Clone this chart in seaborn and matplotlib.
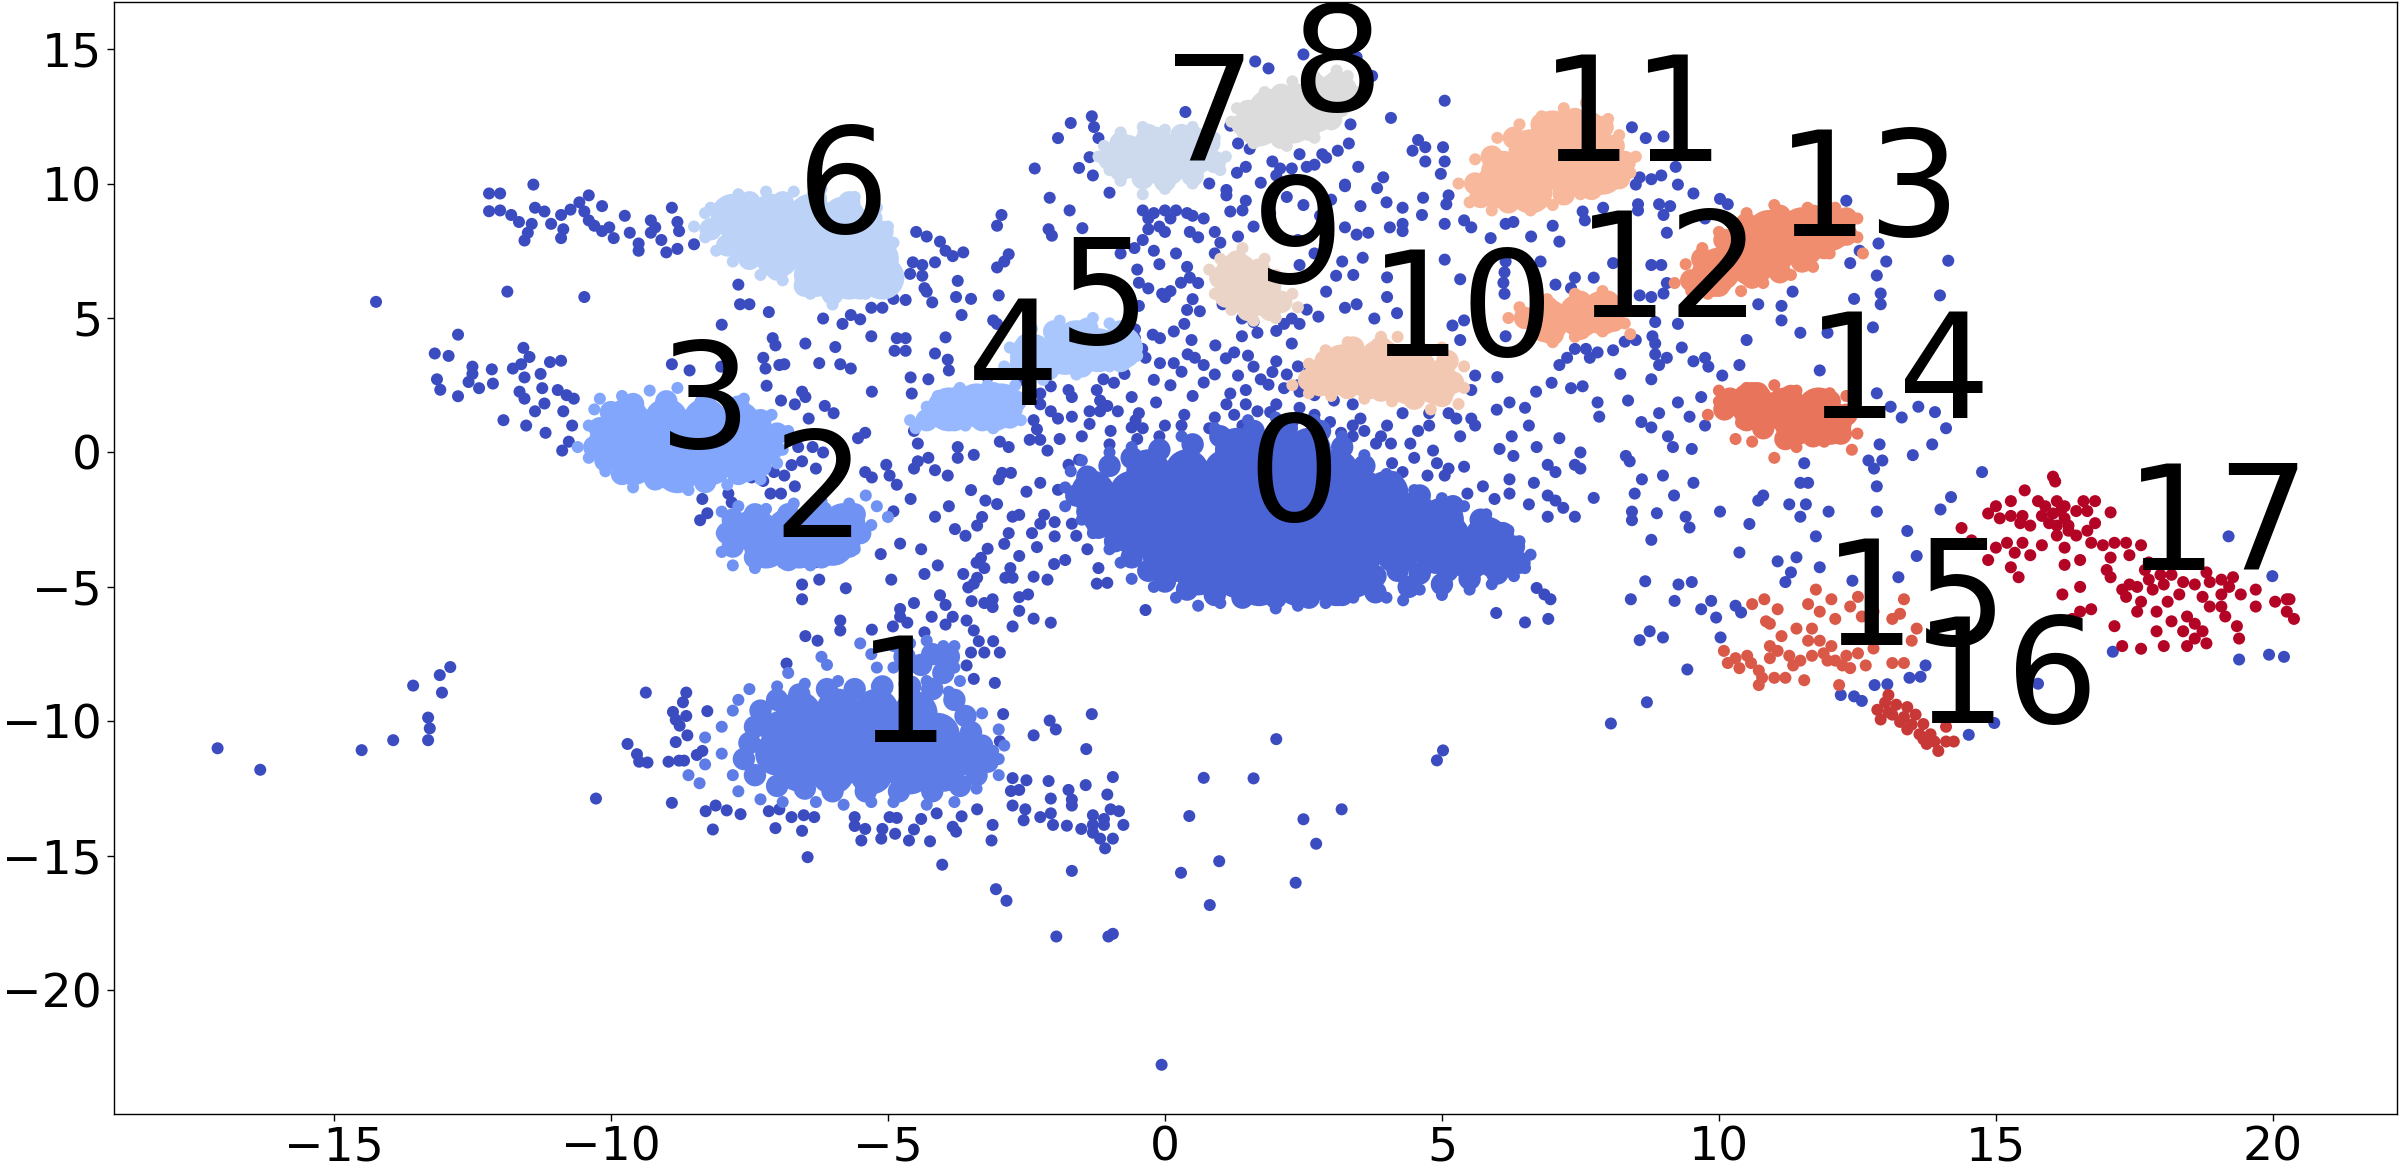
#!/usr/bin/env python3
import matplotlib
matplotlib.use('Agg')
import matplotlib.pyplot as plt
import pandas as pd
import seaborn as sns

# points, as (x, y)
noise_left = [(-12.2,9.63),(-12.0,9.63),(-11.4,9.96),(-12.2,8.97),(-12.0,9.0),(-11.8,8.83),(-11.66,8.57),(-11.37,9.1),(-11.2,8.96),(-11.43,8.5),(-11.5,8.17),(-11.56,7.88),(-11.08,8.5),(-10.9,8.83),(-10.86,8.3),(-10.9,7.97),(-10.73,9.03),(-10.57,9.3),(-10.4,9.56),(-10.48,8.96),(-10.4,8.63),(-10.3,8.43),(-10.16,9.16),(-10.16,8.23),(-10.03,8.37),(-9.95,7.97),(-9.75,8.8),(-9.66,8.17),(-9.5,7.77),(-9.5,7.5),(-9.28,8.63),(-9.2,8.37),(-9.28,8.17),(-9.09,7.9),(-9.0,7.44),(-8.8,7.57),(-8.9,9.1),(-8.8,8.57),(-8.77,8.23),(-8.5,7.74),
    (-14.24,5.6),(-11.87,5.98),(-10.48,5.78),
    (-12.76,4.38),(-13.18,3.68),(-12.93,3.59),(-11.58,3.89),(-11.47,3.55),(-11.1,3.36),(-10.9,3.41),(-11.62,3.28),(-11.77,3.12),(-12.15,3.09),(-12.5,3.19),(-12.5,2.92),(-12.57,2.62),(-13.14,2.72),(-13.08,2.33),(-12.76,2.09),(-12.38,2.39),(-12.13,2.56),(-11.56,2.79),(-11.27,2.92),(-11.24,2.39),(-11.65,2.26),(-11.56,2.0),(-11.37,1.53),(-11.2,1.82),(-10.96,2.32),(-10.8,2.13),(-10.67,2.0),(-10.86,1.53),(-11.94,1.2),(-11.53,1.0),(-11.18,0.73),(-10.7,1.0),(-10.76,0.4),(-10.88,0.07)]

noise_mid_left = [(-7.7,6.24),(-7.67,5.51),(-7.5,5.51),(-7.15,5.22),(-8.0,4.75),(-7.08,4.25),(-7.03,3.98),(-6.49,4.05),(-5.95,3.92),(-6.17,4.98),(-5.82,4.78),(-5.67,5.11),(-5.5,4.95),(-5.3,5.38),(-5.1,5.38),(-4.9,5.71),(-4.68,5.67),(-4.3,5.98),(-4.2,5.58),(-3.74,6.38),(-3.77,5.78),(-3.5,5.71),(-3.67,5.11),(-3.0,5.84),(-3.1,4.91),(-3.03,4.78),(-3.96,4.28),(-5.3,4.32),(-4.84,4.25),(-4.68,4.25),(-4.88,3.78),(-4.68,3.78),(-4.15,3.68),(-3.92,3.45),(-3.9,3.05),
    (-4.49,8.2),(-4.3,8.03),(-4.06,7.84),(-3.96,7.5),(-3.83,7.3),(-3.64,7.44),(-4.15,7.07),(-4.55,7.07),(-4.38,6.97),(-4.6,6.64),(-4.38,6.57),(-4.34,6.11),(-2.95,8.83),(-3.03,8.43),(-2.82,7.37),(-2.9,7.1),(-3.03,6.88),(-2.35,10.56),(-1.7,12.25),(-1.32,12.5),(-1.28,12.1),(-1.93,11.69),(-1.2,11.69),(-1.36,10.98),(-1.55,10.58),(-1.3,10.3),(-1.0,9.66),(-2.08,9.47),(-1.72,9.0),(-2.1,8.3),(-2.04,8.06),(-1.49,8.34),(0.37,12.66),
    (-7.19,2.48),(-7.25,3.52),(-7.21,3.12),(-6.96,3.25),(-6.87,3.28),(-6.24,3.32),(-5.86,3.28),(-5.67,3.12),(-5.29,2.26),(-8.9,3.28),(-8.58,3.05),(-8.01,3.19),(-6.55,2.26),(-6.49,2.06),(-6.93,1.93),(-6.68,1.79),(-6.43,1.26),(-6.14,1.73),(-5.98,1.46),(-5.41,0.73),(-5.54,0.53),(-6.62,0.2),(-6.36,0.2),(-6.17,0),(-6.55,-0.33),(-6.74,-0.47),(-7.06,-0.73),(-6.87,-0.86),(-6.3,-0.6),(-7.46,-0.93),(-7.25,-1.06),(-6.93,-1.53),(-6.68,-1.26),(-7.12,-1.53),(-7.88,-1.53),(-7.82,-1.86),(-8.35,-1.73),(-8.26,-2.26),(-8.39,-2.52),(-5.41,-0.73),(-5.29,-0.93),(-5.03,-0.46),(-4.97,-0.86),(-4.84,-1.2),(-4.59,-1.73),(-4.9,-2.19),(-4.15,-2.39),(-4.78,-3.39),(-5.13,-3.78),(-5.92,-3.65),(-3.79,-2.85),(-3.39,-2.72),(-4.53,0.8),(-4.46,0.33),(-4.46,-0.33),(-4.27,-0.2),(-4.53,-0.6),(-4.15,-0.66),(-3.92,-0.86),(-3.74,0.2),(-3.74,-0.2),(-3.45,-0.09),(-4.59,2.79),(-4.27,2.72),(-4.57,2.19),(-2.98,0.4),(-2.82,0.2),(-2.44,0.47),(-2.25,0.47),(-2.94,-0.76),(-2.78,-0.76),(-3.24,-1.79),(-3.03,-1.92),(-2.25,-1.13),(-2.5,-1.46),(-1.93,-1.39),(-1.55,-0.27),(-1.74,-0.46),(-2.75,-2.39),(-2.63,-2.32),(-2.82,-3.0),(-2.18,-2.32),(-2.25,-2.65),(-1.99,-2.59),(-1.68,-2.65),(-2.31,-3.52),(-2.63,-3.85),(-3.2,-3.58),(-3.32,-3.92),(-1.99,-3.12),
    (-2.25,2.19),(-2.06,2.46),(-1.74,2.32),(-1.68,2.06),(-2.25,1.79),(-2.06,1.53),(-1.93,1.26),(-1.68,1.33),(-2.37,1.2),(-2.31,0.86),(-1.36,1.53),(-1.17,1.93),(-1.04,1.73),(-1.36,1.06),(-1.17,1.53),(-0.85,1.53),(-0.6,2.06),(-0.16,1.86),(-0.47,1.46),(-0.53,1.2),(-1.23,2.32),(-1.11,2.72),(-0.92,2.59),(-0.73,2.92),(0.0,1.0),(-0.6,0.93),(-0.98,0.8),(-2.12,0.07),(0.35,1.4),
    (-3,-1),(-3.5,-1.4),(-3.9,-2),(-3.3,-2.4),(-3.6,-3.1),(-2.9,-3.4),(-3.4,-4.1),(-2.4,-3),(-1.8,-4),(-1.4,-3.6),(-1.2,-4.3),(-1.6,-3.1),(-4.4,-3.6),(-4.1,-4.2),(-3.2,2.8),(-2.6,2.7),(-2.2,3.0),(-1.5,0.6),(-1.9,0.5),(-1,0.3),(-0.5,0.5)]

noise_centre = [(-0.4,9.0),(-0.2,8.9),(0,9),(0.2,9),(0.4,8.9),(0.5,8.8),(-0.3,8.7),(-0.1,8.4),(0.1,8.7),(-0.3,8.3),(0,8.2),(0.45,8.2),(0.6,8.0),(-0.4,7.9),(-0.2,7.5),(-0.8,7.4),(-0.55,7.6),(-0.1,7.0),(0.2,7.4),(-0.5,6.8),(0.4,6.9),(0.45,6.5),(0.6,6.3),(-0.3,6.1),(-0.05,5.9),(0.1,6.0),(0.5,5.7),(0.4,5.3),(-0.47,6.31),(0,5.78),(-0.47,5.45),(0.29,6.31),(-0.22,4.38),(-0.54,4.58),(-0.54,4.25),(-0.09,4.25),(0.16,4.5),(0.35,4.78),(-0.41,3.85),(-0.35,3.52),(-0.09,3.32),(0.16,3.32),(0.41,3.65),(0.54,3.52),(0.48,4.18),
    (1.32,8.03),(0.7,8.7),(1.18,8.96),(1.46,9.36),(1.11,9.76),(1.73,10.03),(1.46,10.62),(1.94,10.82),(2.08,10.56),(2.43,11.09),(2.84,11.09),(3.12,11.22),(3.32,11.49),(2.91,10.96),(2.56,10.62),(2.29,10.56),(2.7,10.7),(3.49,10.62),(1.32,11.49),(1.53,11.29),(1.18,12.15),(3.25,9.9),(2.01,10.3),(1.11,9.56),
    (1.04,5.51),(0.63,5.25),(1.39,4.98),(1.6,4.85),(2.15,4.78),(2.43,4.78),(2.56,5.31),(2.77,5.05),(2.29,4.98),(1.39,4.32),(1.67,4.45),(2.01,4.52),(2.29,4.05),(0.91,3.98),(1.25,3.72),(1.6,3.19),(2.01,3.39),(1.94,2.99),(0.7,3.25),(1.32,2.86),(1.73,2.72),(1.87,2.52),(2.15,2.39),(2.43,2.26),(2.7,2.13),(3.05,1.93),(3.39,1.79),(1.18,2.19),(1.46,2.32),(1.11,1.79),(1.46,1.79),(1.25,1.4),(1.67,1.53),(2.01,1.79),(2.43,1.66),(2.7,1.4),(2.98,1.13),(3.39,1.0),(3.18,0.73),(3.53,1.26),(3.39,0.6),(3.18,0.07),(3.81,0.33),(4.08,0.33),(4.43,0.33),(4.01,1.0),(4.29,1.46),(4.77,1.46),(4.77,1.0),(4.57,0.8),(5.12,1.46),(5.26,1.26),(5.53,1.26),(5.33,0.6),(5.6,1.0),(4.84,0.07),(4.91,-0.4),(5.4,-0.53),(4.29,-0.73),(4.74,-0.86),(5.05,-0.86),(5.12,-0.6),
    (1.63,14.54),(1.87,14.28),(2.5,14.8),(3.46,14.7),(3.74,14.0),(5.05,13.08),(4.08,12.44),(3.35,12.2),(4.57,11.62),(4.7,11.35),(5.02,11.35),(4.47,11.22),(4.7,10.82),(5.05,10.82),(4.98,10.36),(3.94,10.23),(3.25,9.96),(3.83,9.83),(4.0,9.3),(4.29,9.1),(4.66,9.47),(5.12,9.56),(5.08,9.23),(4.64,8.83),(5.05,8.5),(3.53,9.16),(4.29,8.5),(4.29,8.23),(4.06,8.37),(3.67,8.17),(3.46,8.1),(3.25,8.37),(2.43,6.97),(3.57,7.24),(3.09,6.57),(2.91,5.98),(4.01,6.51),(4.01,5.78),(3.46,5.51),(3.25,5.38),(3.78,4.98),(4.19,5.18),(5.05,7.17),(5.33,6.44),(5.19,4.72),(5.4,4.91),
    (0.8,0.9),(0.3,1.0),(0.9,1.3),(1.4,1.0),(1.9,1.5),(2.3,1.1),(0.5,2.1),(0.1,2.5),(0.7,2.6),(0.9,2.9),(-0.2,2.7),(0.3,3.0),(-0.4,0.9),(-0.1,0.6),(1.1,3.5),(1.5,3.6),(2.4,3.2),(2.6,3.0),(2.2,2.9),(2.4,2.5),(4.5,-0.2),(4.1,-0.4),(3.6,0.8),(3.9,0.6),(0.9,7.4),(1,7.8),(0.9,8.2),(1.6,8.4),(1.4,9.0),(1.9,8.9),(2.2,9.5),(2.5,9.2),(2.8,8.8),(3,9.4),(2.4,7.9),(2.7,7.4),(2.9,7.9),(3.2,7.1),(3.4,6.6),(0.8,10),(1.3,10.4)]

noise_right = [(5.4,8.63),(5.53,8.37),(5.88,7.97),(6.15,8.5),(6.29,8.57),(6.61,8.03),(7.12,7.84),(7.0,8.43),(7.54,8.96),(7.58,8.63),(7.91,9.1),(7.95,8.7),(8.54,9.23),(8.54,9.0),(8.92,9.23),(9.12,9.16),(9.0,8.83),(9.06,8.17),(10.02,9.43),(10.16,9.23),(9.75,8.7),(9.54,9.63),(9.26,9.96),(9.22,10.62),(8.43,12.09),(8.68,11.69),(9.0,11.75),(8.57,10.23),(8.78,10.16),(8.96,10.3),(8.5,9.96),
    (8.09,7.04),(8.78,6.97),(8.96,6.97),(9.06,6.3),(9.0,5.91),(8.78,5.78),(8.57,5.84),(7.74,6.5),(7.4,6.5),(7.33,6.11),(7.05,6.24),(6.78,7.1),(6.15,7.1),(6.13,6.7),(6.11,6.31),(6.13,5.9),(6.15,4.32),(5.33,4.18),(9.26,4.78),(8.85,4.85),(8.8,4.32),(8.85,4.05),(8.5,4.18),(8.3,4.12),(9.33,3.9),(8.85,3.65),(9.06,3.52),(8.09,3.8),(7.81,3.72),(7.6,3.85),(7.4,3.85),(7.26,3.52),(7.12,3.25),(7.67,3.52),(8.22,2.92),(8.92,3.25),(8.78,2.72),(9.75,3.52),(9.54,3.39),(9.81,3.19),(10.37,3.25),(10.06,2.86),(10.5,4.18),(11.13,5.45),(10.71,5.51),(11.33,5.98),(11.13,4.91),(11.47,4.45),(11.96,4.45),(11.82,3.05),(12.78,4.65),(12.44,5.71),(12.92,5.91),(12.92,5.51),(12.85,6.58),(12.37,7.04),(12.54,7.5),(12.88,7.77),(13.02,7.1),(14.14,7.13),(13.99,5.84),(12.3,9.36),
    (5.6,2.86),(6.0,2.8),(5.53,2.32),(6.7,2.26),(6.98,2.59),(7.33,2.39),(7.54,2.46),(6.22,1.86),(6.5,1.66),(5.99,1.59),(6.57,1.0),(7.81,1.86),(7.84,1.33),(8.36,1.93),(8.92,1.46),(8.6,1.13),(8.78,0.93),(9.26,1.86),(9.68,2.06),(9.47,1.33),(9.75,1.0),(9.08,0.6),(9.17,0.2),(9.51,0.13),(7.12,0.53),(7.5,0),(6.71,0.2),(6.26,0.6),(6.04,0.13),(6.29,-0.13),(6.91,-0.46),(7.05,-0.73),(7.4,-0.46),(7.5,-0.6),(8.32,-0.13),(8.39,-0.33),(8.99,-0.86),(8.61,-1.0),(8.48,-1.53),(9.54,-1.13),(9.19,-1.6),(7.74,-1.69),(10.02,-2.2),(8.43,-2.2),(8.88,-2.26),(8.43,-2.52),(9.4,-2.39),(9.47,-2.79),(8.78,-3.25),(6.91,-1.6),(7.05,-1.79),(7.19,-2.06),(7.4,-2.39),(6.91,-2.39),(6.57,-1.93),(6.22,-1.0),(6.22,-1.53),(5.95,-1.73),(5.74,-1.26),(5.46,-1.53),(6.66,-1.13),
    (10.8,-1.6),(10.71,-1.79),(11.47,-1.13),(11.61,-1.13),(11.54,-0.4),(11.27,-1.93),(11.57,-1.93),(11.98,-2.2),(11.47,-2.39),(12.85,-1.26),(12.85,-2.2),(10.55,-2.66),(11.75,-3.12),(10.37,-3.72),(14.75,-0.73),(14.19,-1.66),(14.0,-2.12),(13.4,-2.92),(19.2,-3.12),
    (12.85,2.2),(13.1,1.7),(13.3,1.3),(13.6,1.7),(13.9,1.5),(14.1,0.9),(13.85,0.3),(13.5,-0.1),(12.9,0.3),(12.95,-0.3),(12.8,-0.6),(12.7,-0.3),
    (11.06,-4.05),(11.4,-3.9),(11.82,-4.27),(11.3,-4.46),(11.2,-4.82),(8.67,-4.79),(9.27,-4.91),(9.51,-4.82),(8.41,-5.46),(9.2,-5.52),(9.86,-5.52),(9.68,-5.83),(10.3,-5.7),(10.4,-5.95),(9.95,-6.14),(10.03,-6.88),(8.75,-6.65),(8.99,-6.88),(8.57,-6.98),(9.43,-8.07),(8.7,-9.29),(8.05,-10.08),(13.57,-3.85),(13.24,-4.64),(12.41,-4.77),(13.73,-7.92),(13.64,-8.34),(13.44,-8.38),(12.81,-8.65),(13.04,-8.62),(12.2,-9.02),(12.44,-9.07),(12.58,-9.24),(15.76,-8.6),(14.97,-10.06),(14.51,-10.5),(17.11,-7.41),(19.39,-7.7),(19.93,-7.52),(20.2,-7.6),(19.99,-4.6),
    (6.71,-5.04),(6.85,-5.28),(6.96,-5.46),(6.92,-6.19),(6.5,-6.32),(5.98,-5.97)]

noise_low = [(2.01,-10.66),(5.02,-11.08),(4.91,-11.45),(0.7,-12.1),(1.6,-12.12),(3.19,-13.27),(2.5,-13.64),(2.73,-14.55),(0.98,-15.2),(2.36,-16.0),(0.81,-16.83),
    (-17.1,-11.0),(-16.33,-11.8),(-14.5,-11.07),(-13.93,-10.7),(-13.3,-10.7),(-13.27,-10.26),(-13.3,-9.86),(-13.57,-8.67),(-13.09,-8.28),(-12.9,-7.98),(-13.05,-8.93),
    (-10.27,-12.87),(-9.7,-10.84),(-9.37,-8.93),(-8.64,-8.93),(-8.7,-9.29),(-8.88,-9.65),(-8.83,-9.94),(-8.76,-10.16),(-8.64,-9.8),(-8.26,-9.62),(-8.62,-10.52),(-8.83,-10.77),(-9.53,-11.22),(-9.49,-11.5),(-9.34,-11.53),(-8.96,-11.5),(-8.77,-11.46),(-8.68,-11.46),(-8.45,-11.25),(-8.35,-11.1),(-8.9,-13.03),(-8.29,-13.34),(-8.11,-13.13),(-7.91,-13.31),(-7.66,-13.45),(-8.16,-14.02),(-7.03,-13.97),(-7.15,-13.34),(-6.96,-13.27),(-6.74,-13.56),(-6.55,-14.07),(-6.52,-13.49),(-6.33,-13.56),(-6.45,-15.05),(-5.6,-13.56),(-5.6,-13.89),(-5.48,-14.43),(-5.41,-14.0),(-5.12,-14.36),(-5.1,-14.0),(-4.87,-14.18),(-4.97,-13.56),(-4.84,-13.59),(-4.53,-14.02),(-4.62,-14.43),(-4.24,-14.46),(-4.4,-13.63),(-4.12,-13.42),(-3.67,-13.53),(-3.83,-13.92),(-3.77,-14.1),(-3.39,-13.27),(-3.11,-13.85),(-3.13,-14.43),(-4.02,-15.33),(-3.05,-16.24),(-2.86,-16.67),(-1.96,-18.0),(-1.02,-18.0),(-0.94,-17.9),(-1.68,-15.56),(-0.06,-22.77),(0.29,-15.63),
    (-2.75,-12.11),(-2.5,-12.19),(-2.78,-12.59),(-2.63,-12.55),(-2.1,-12.22),(-2.75,-13.13),(-2.52,-13.27),(-2.55,-13.68),(-2.25,-13.56),(-2.06,-13.42),(-2.06,-12.87),(-1.74,-12.55),(-1.68,-12.91),(-1.68,-13.13),(-1.43,-12.37),(-1.04,-12.72),(-0.94,-12.07),(-0.98,-13.27),(-0.83,-13.34),(-2.02,-13.85),(-1.77,-13.88),(-1.51,-14.0),(-1.3,-13.49),(-1.1,-13.63),(-1.3,-13.85),(-1.1,-13.85),(-0.75,-13.85),(-1.3,-14.14),(-1.17,-14.36),(-1.08,-14.72),(-0.94,-14.36),(0.44,-13.52),
    (-1.42,-11.03),(-2.37,-10.52),(-2.08,-9.97),(-1.97,-10.3),(-1.32,-9.73),(-2.92,-9.73),(-2.98,-10.74),(-3.07,-8.57),(-3.45,-8.42),(-3.58,-7.92),(-3.36,-7.02),(-3.1,-7.02),(-3.5,-7.44),(-3.26,-7.44),(-2.98,-7.44),(-2.75,-6.47),(-2.37,-6.18),(-2.06,-6.33),
    (-6.49,-6.83),(-6.27,-7.0),(-6.83,-7.85),(-5.86,-6.25),(-5.86,-6.62),(-5.29,-6.59),(-4.78,-5.82),(-4.78,-6.11),(-4.65,-6.33),(-4.91,-6.47),(-4.53,-5.6),(-4.34,-6.69),(-4.21,-6.11),(-4.06,-5.31),(-3.96,-5.67),(-3.83,-6.11),(-3.96,-6.4),(-3.58,-6.25),(-3.45,-6.62),(-3.49,-5.53),(-3.11,-5.46),(-3.11,-5.75),(-3.26,-5.6),(-2.63,-5.38),(-2.47,-5.28),(-2.63,-5.89),
    (-6.55,-4.91),(-6.55,-5.46),(-6.24,-4.73),(-5.76,-5.05),(-4.94,-4.73),(-4.34,-4.52),(-3.64,-4.52),(-3.45,-4.88),(-3.39,-4.66),(-3.55,-5.02),(-3.26,-4.3),(-2.88,-4.66),(-2.75,-4.66),(-2.79,-4.3),(-2.37,-4.62),(-2.12,-4.73),(-2.0,-4.15),(-6.3,-4.08),(-1.23,-4.88),(-1.04,-4.85),(-0.35,-5.86)]

# filled middle of each cluster
core_pts = {
    0: [(1.3,0.1),(2.0,0.1),(2.6,0.1),(-0.3,-0.7),(0.4,-0.7),(1.1,-0.7),(1.8,-0.7),(2.5,-0.7),(3.1,-0.7),(-1.3,-1.5),(-0.6,-1.5),(0.1,-1.5),(0.8,-1.5),(1.5,-1.5),(2.2,-1.5),(2.9,-1.5),(3.6,-1.5),(4.0,-1.5),(-1.1,-2.3),(-0.4,-2.3),(0.3,-2.3),(1,-2.3),(1.7,-2.3),(2.4,-2.3),(3.1,-2.3),(3.8,-2.3),(4.5,-2.3),(5,-2.5),(-0.5,-3.1),(0.2,-3.1),(0.9,-3.1),(1.6,-3.1),(2.3,-3.1),(3,-3.1),(3.7,-3.1),(4.4,-3.1),(5.1,-3.1),(5.8,-3.2),(0,-3.9),(0.7,-3.9),(1.4,-3.9),(2.1,-3.9),(2.8,-3.9),(3.5,-3.9),(4.2,-3.7),(4.9,-3.7),(5.5,-3.9),(6,-3.9),(0.6,-4.5),(1.3,-4.6),(2,-4.7),(2.7,-4.7),(3.4,-4.6),(1.7,-4.9),(2.4,-4.9),(3.1,-4.9)],
    1: [(-6.6,-9.7),(-5.9,-9.6),(-5.2,-9.6),(-4.5,-9.7),(-6.9,-10.4),(-6.2,-10.4),(-5.5,-10.4),(-4.8,-10.4),(-4.1,-10.5),(-7.0,-11.2),(-6.4,-11.2),(-5.7,-11.2),(-5,-11.2),(-4.3,-11.2),(-3.7,-11.2),(-6.6,-11.8),(-6,-11.9),(-5.3,-11.9),(-4.6,-11.9),(-4,-11.8)],
    2: [(-7.4,-2.9),(-6.8,-2.9),(-6.2,-2.9),(-5.8,-2.7),(-7.2,-3.5),(-6.6,-3.5),(-6,-3.4)],
    3: [(-9.7,1.2),(-9,1.2),(-8.3,1.2),(-7.7,1.1),(-10,0.4),(-9.3,0.4),(-8.6,0.4),(-7.9,0.4),(-7.3,0.3),(-9.6,-0.4),(-8.9,-0.4),(-8.2,-0.4),(-7.6,-0.3),(-8.8,-0.7)],
    4: [(-3.9,1.6),(-3.4,1.75),(-2.95,1.75),(-3.1,1.6)],
    5: [(-2.4,3.6),(-1.8,3.7),(-1.2,3.8),(-0.8,3.9),(-1.6,4.1)],
    6: [(-7.8,8.8),(-7.1,8.8),(-6.4,8.8),(-5.8,8.7),(-7.6,8),(-6.9,8),(-6.2,8),(-5.5,8),(-7,7.3),(-6.3,7.2),(-5.7,7.2),(-5.2,7.2),(-6.3,6.6),(-5.7,6.5),(-5.1,6.5)],
    7: [(-0.7,11),(0,11),(0.5,11.1),(0,10.7),(0.5,11.3),(-0.2,11.3)],
    8: [(1.7,12.2),(2.3,12.3),(2.7,12.7),(3.1,13.3),(1.9,12.7),(2.4,12.9)],
    9: [(1.3,6.6),(1.7,5.9),(1.3,6.1)],
    10: [(3.2,3.2),(3.9,3.4),(4.5,3.1),(3,2.9),(3.7,2.8),(4.4,2.6),(4.9,2.6)],
    11: [(7,11.9),(7.6,11.9),(6.6,11.2),(7.2,11.2),(7.8,11.1),(6.1,10.4),(6.7,10.4),(7.3,10.3),(7.9,10.4),(6,9.9),(6.6,9.7)],
    12: [(6.9,4.9),(7.5,5.1),(7.9,5.2)],
    13: [(10.9,8.2),(11.5,8.3),(12,8.3),(10.4,7.5),(11,7.5),(11.5,7.7),(10,6.8),(10.6,7),(9.9,6.6)],
    14: [(10.6,1.8),(11.2,1.6),(11.8,1.6),(12,1.1),(11.4,1.1)],
}

# just inside the outline, smooths the edge of the filled part
fill_pts = {
    0: [(-1.4,-0.9),(-1.0,-0.5),(-0.6,-0.2),(-0.1,0.1),(0.5,0.3),(1.0,0.6),(1.6,0.8),(2.2,0.9),(2.8,0.8),(3.2,0.2),(3.6,-0.5),(4.1,-1.1),(4.6,-1.6),(5.2,-2.0),(5.7,-2.5),(6.1,-3.0),(6.3,-3.5),(6.4,-4.1),(6,-4.5),(5.5,-4.7),(5,-4.9),(4.4,-5.0),(3.8,-5.2),(3.2,-5.3),(2.6,-5.4),(2,-5.4),(1.4,-5.4),(0.9,-5.3),(0.4,-5.1),(0,-4.8),(-0.3,-4.4),(-0.6,-3.9),(-0.9,-3.3),(-1.2,-2.8),(-1.4,-2.2),(-1.6,-1.6),(4.6,-4.5),(5.1,-4.4),(4.2,-4.4),(3.8,-4.6),(0.2,-4.4)],
    1: [(-7.3,-9.6),(-7.4,-10.2),(-7.5,-10.8),(-7.6,-11.4),(-7.4,-12),(-7,-12.4),(-6.5,-12.5),(-6,-12.6),(-5.4,-12.6),(-4.8,-12.6),(-4.2,-12.6),(-3.7,-12.4),(-3.4,-12),(-3.2,-11.5),(-3.3,-10.9),(-3.5,-10.4),(-3.6,-9.8),(-3.8,-9.2),(-4.2,-8.8),(-4.6,-8.7),(-5.1,-8.7),(-5.6,-8.8),(-6.1,-8.8),(-6.6,-9),(-7,-9.2),(-4.0,-8.2),(-4.4,-7.9),(-4.7,-7.6),(-4.2,-7.5),(-3.9,-7.6)],
    2: [(-7.8,-2.5),(-7.4,-2.3),(-6.8,-2.3),(-6.2,-2.2),(-5.6,-2.3),(-5.5,-3),(-5.7,-3.5),(-6.2,-3.9),(-6.8,-4),(-7.4,-3.9),(-7.8,-3.5),(-7.9,-3)],
    3: [(-10.2,0.9),(-10.3,0.2),(-10.1,-0.3),(-9.8,-0.8),(-9.2,-1.0),(-8.3,-1.1),(-7.7,-0.8),(-7.3,-0.5),(-7.1,0.1),(-7.0,0.7),(-7.3,1.2),(-7.7,1.7),(-8.3,1.8),(-9,1.9),(-9.6,1.8),(-10,1.5)],
    4: [(-4.3,1.2),(-4.1,1.6),(-3.7,2.1),(-3.1,2.2),(-2.7,1.9),(-2.8,1.3),(-3.3,1.2),(-3.8,1.2)],
    5: [(-2.6,3.3),(-2.5,4),(-2.0,4.5),(-1.4,4.6),(-0.8,4.5),(-0.6,3.9),(-0.8,3.4),(-1.5,3.2),(-2.1,3.1)],
    6: [(-8.2,8.3),(-8.0,8.9),(-7.5,9.3),(-6.9,9.3),(-6.3,9.4),(-5.7,9.3),(-5.3,8.7),(-5.1,8.2),(-5.1,7.6),(-5.2,6.6),(-5.5,6.1),(-6,5.9),(-6.5,6.2),(-7,6.8),(-7.5,7.2),(-7.9,7.7)],
    7: [(-1,10.9),(-0.8,11.5),(-0.3,11.8),(0.3,11.8),(0.8,11.5),(0.9,10.8),(0.5,10.3),(0,10.1),(-0.4,10.2),(-0.8,10.5)],
    8: [(1.4,12.2),(1.5,12.7),(2.1,13.3),(2.7,13.7),(3.1,13.8),(3.3,13.2),(3,12.4),(2.6,12),(2.1,11.7),(1.7,11.8)],
    9: [(1,6.5),(1.3,7.1),(1.7,6.8),(1.9,6.2),(2.1,5.6),(1.9,5.3),(1.5,5.3),(1.1,5.8)],
    10: [(2.6,2.7),(2.9,3.4),(3.4,3.9),(3.9,3.9),(4.6,3.7),(5.1,3.4),(5.2,2.6),(5.0,2.1),(4.5,2.0),(3.9,2.3),(3.3,2.4),(2.8,2.5)],
    11: [(5.6,10),(5.9,11),(6.3,11.7),(6.8,12.2),(7.4,12.4),(7.9,12.1),(8.1,11.4),(8.3,10.8),(8.2,10.2),(7.7,9.8),(7.2,9.6),(6.2,9.3),(5.7,9.5)],
    12: [(6.5,5),(6.9,5.4),(7.5,5.6),(8,5.6),(8.1,4.9),(7.5,4.6),(7,4.4)],
    13: [(9.5,6.4),(9.7,7.2),(10.1,7.9),(10.5,8.5),(11.1,8.8),(11.7,8.8),(12.3,8.7),(12.3,8.1),(11.9,7.6),(11.5,7.1),(11.1,6.7),(10.6,6.5),(10,6.2)],
    14: [(10.1,1.6),(10.2,2.0),(10.7,2.2),(11.3,2.1),(12,1.9),(12.3,1.4),(12.2,0.7),(11.7,0.6),(11.2,0.5),(10.8,0.9),(10.5,1.2)],
}

# loose dots round the edge of each cluster, and all of 15, 16, 17
edge_pts = {
    0: [(-1.8,-1.3),(-1.7,-0.7),(-1.5,-0.3),(-1,0),(-0.6,0.2),(0.3,0.6),(0.9,0.9),(1.5,1.2),(2,1.3),(2.7,1.2),(3.2,0.6),(3.6,-0.1),(4,-0.8),(4.5,-1.4),(5,-1.7),(5.4,-2),(5.8,-2.3),(6.2,-2.9),(6.4,-3.3),(6.6,-3.8),(6.5,-4.3),(6.3,-4.6),(5.9,-4.9),(5.5,-5.1),(5,-5.3),(4.6,-5.1),(4.3,-5.5),(4,-5.4),(3.4,-5.4),(2.9,-5.6),(2.4,-5.7),(2,-5.8),(1,-5.6),(0.6,-5.7),(0.2,-5.4),(-0.2,-5),(-0.6,-4.7),(-0.8,-4.1),(-1,-3.6),(-1.3,-3),(-1.5,-2.5),(-1.8,-2)],
    1: [(-4.9,-7.2),(-4.6,-7.1),(-4.3,-7.0),(-4.0,-7.2),(-3.8,-7.2),(-5.3,-7.5),(-5.5,-7.1),(-5.2,-8.0),(-6.2,-7.6),(-6.1,-7.9),(-6.8,-8.2),(-4.9,-8.0),(-4.5,-8.0),(-4.1,-7.7),(-3.8,-8.0),(-3.7,-8.5),(-4.3,-8.5),(-3.9,-8.9),(-4.7,-8.6),(-5.2,-8.7),(-5.9,-8.5),(-6.5,-8.6),(-7.0,-8.7),(-7.5,-8.8),(-7.7,-9.2),(-7.8,-9.6),(-8.0,-10.2),(-8.3,-10.6),(-8.0,-11.2),(-8.3,-11.6),(-8.6,-12.0),(-8.4,-12.3),(-7.8,-12.0),(-7.7,-12.6),(-7.3,-12.9),(-6.9,-13.0),(-6.3,-13.0),(-5.8,-13.1),(-5.3,-13.0),(-4.9,-13.0),(-4.3,-13.1),(-3.8,-13.0),(-3.4,-12.5),(-3.0,-12.0),(-3.0,-11.4),(-2.9,-10.9),(-3.0,-10.3),(-3.3,-9.7),(-3.1,-11.1)],
    2: [(-8.0,-2.2),(-7.7,-2.0),(-7.2,-2.1),(-6.7,-1.9),(-6.2,-1.8),(-5.7,-1.9),(-5.2,-2.0),(-5.0,-2.4),(-5.3,-2.7),(-5.4,-1.6),(-5.6,-2.3),(-8.0,-3.0),(-8.0,-3.7),(-7.8,-4.2),(-7.4,-4.3),(-6.9,-4.1),(-6.4,-4.2),(-5.9,-3.9),(-5.6,-3.6)],
    3: [(-10.2,2.0),(-9.8,2.1),(-9.3,2.3),(-8.8,2.4),(-8.2,2.1),(-7.6,2.0),(-7.1,1.4),(-6.8,0.8),(-6.9,0.1),(-7.0,-0.4),(-7.3,-1.0),(-7.9,-1.2),(-8.6,-1.4),(-9.0,-1.1),(-9.6,-1.3),(-10.1,-0.7),(-10.4,-0.2),(-10.6,0.2),(-10.4,1.0),(-10.3,1.6)],
    4: [(-4.5,0.9),(-4.6,1.2),(-4.3,1.7),(-4.1,2.1),(-3.7,2.4),(-3.2,2.5),(-2.7,2.5),(-2.6,1.2),(-3.1,0.9),(-3.6,1.0),(-4.0,1.2)],
    5: [(-2.9,3.2),(-2.8,3.9),(-2.4,4.6),(-1.9,4.9),(-1.3,5.0),(-1.0,4.8),(-0.6,4.2),(-0.5,3.6),(-1.0,3.2),(-1.6,2.9),(-2.2,2.7),(-2.7,2.9)],
    6: [(-8.5,8.4),(-8.3,8.9),(-8.2,9.1),(-7.7,9.6),(-7.2,9.7),(-6.7,9.7),(-6.2,9.8),(-5.6,9.5),(-5.2,9.1),(-5.0,8.4),(-4.9,7.8),(-5.0,7.1),(-5.0,6.3),(-5.4,5.9),(-6,5.5),(-6.4,5.9),(-6.9,6.4),(-7.3,6.6),(-7.8,7.1),(-8.1,7.5),(-8.3,8.0)],
    7: [(-1.2,11),(-1.1,11.4),(-0.8,11.9),(-0.4,12.1),(0,12.0),(0.5,12.1),(0.9,11.7),(1.1,11),(1,10.5),(0.5,10.0),(0,9.8),(-0.4,9.6),(-0.8,10.1),(-1.0,10.5)],
    8: [(1.2,12.3),(1.3,12.8),(1.8,13.4),(2.3,13.8),(2.7,14.0),(3.1,14.2),(3.3,14.0),(3.5,13.4),(3.2,12.7),(3.0,12.2),(2.7,11.7),(2.2,11.4),(1.6,11.5),(1.4,11.9)],
    9: [(0.8,6.8),(1.0,7.2),(1.4,7.6),(1.8,7.2),(2.0,6.6),(2.3,5.9),(2.4,5.4),(2.0,5.0),(1.6,4.9),(1.2,5.3),(0.9,5.9)],
    10: [(2.3,2.5),(2.6,3.3),(2.9,3.8),(3.3,4.1),(3.9,4.3),(4.2,4.3),(5.0,3.9),(5.4,3.2),(5.4,2.4),(5.3,1.8),(4.8,1.6),(4.1,1.9),(3.6,2.0),(3.0,2.1),(2.6,2.2)],
    11: [(5.3,10.0),(5.6,10.9),(6.0,11.7),(6.4,12.2),(6.8,12.5),(7.2,12.8),(7.6,13.0),(8.0,12.4),(8.2,11.8),(8.5,11.0),(8.4,10.4),(8.0,9.9),(7.5,9.6),(7.0,9.2),(6.6,9.0),(5.9,9.0),(5.5,9.3)],
    12: [(6.2,5.0),(6.4,5.4),(6.9,5.7),(7.4,5.9),(7.9,6.0),(8.3,5.7),(8.3,4.8),(8.4,4.4),(7.9,4.5),(7.4,4.3),(7.0,4.1),(6.6,4.3)],
    13: [(9.2,6.3),(9.4,7.0),(9.7,7.6),(10.0,8.2),(10.5,8.9),(11.0,9.2),(11.6,9.1),(12.1,9.1),(12.5,8.7),(12.5,8.0),(12.6,7.4),(12.0,7.4),(11.7,6.9),(11.3,6.6),(10.8,6.3),(10.4,6.0),(9.8,5.9),(9.5,6.0)],
    14: [(9.8,1.4),(10.0,1.9),(10.0,2.3),(10.5,2.4),(11,2.5),(11.4,2.3),(12.0,2.2),(12.3,2.1),(12.5,1.5),(12.5,0.7),(12.4,0.1),(11.9,0.4),(11.4,0.2),(11.0,-0.2),(10.6,0.4),(10.3,0.5),(10.4,1.1)],
    15: [(10.09,-7.38),(10.3,-7.65),(10.51,-7.56),(10.16,-7.83),(10.37,-8.02),(10.58,-7.83),(10.72,-8.11),(10.92,-7.2),(10.92,-7.65),(11.06,-7.38),(11.13,-6.83),(10.78,-8.38),(11.0,-8.38),(11.2,-8.38),(10.72,-8.65),(11.54,-8.47),(11.34,-7.92),(11.47,-7.74),(11.68,-7.56),(11.89,-7.47),(12.1,-7.74),(12.3,-7.56),(12.51,-7.47),(12.65,-7.92),(12.37,-8.02),(12.79,-7.29),(13.13,-7.83),(13.34,-7.83),(12.17,-8.65),(11.4,-6.55),(11.61,-7.0),(11.82,-7.0),(12.03,-7.2),(11.68,-6.55),(11.75,-5.1),(11.61,-5.64),(12.03,-5.46),(11.82,-5.92),(12.1,-6.19),(12.37,-5.73),(12.51,-5.37),(12.58,-6.1),(12.79,-5.92),(13.13,-6.19),(13.34,-5.46),(13.27,-6.0),(13.48,-7.0),(13.57,-6.55),(10.85,-6.28),(10.6,-5.64),(10.82,-5.46),(10.92,-6.37),(11.06,-5.83),(11.27,-7.56),(11.96,-7.74),(12.23,-7.92)],
    16: [(13.06,-9.02),(12.86,-9.57),(13,-9.3),(13.2,-9.38),(13.13,-9.75),(13.4,-9.47),(12.92,-9.93),(13.27,-10.02),(13.55,-9.75),(13.4,-10.3),(13.69,-10.1),(13.62,-10.48),(13.82,-10.48),(13.75,-10.84),(13.96,-11.1),(14.1,-10.75),(14.24,-10.75),(14.1,-10.2),(13.48,-10.12),(13.89,-10.75),(13.06,-9.66),(13.34,-9.84),(13.69,-10.66)],
    17: [(16.03,-0.9),(16.07,-1.08),(15.52,-1.41),(15.27,-1.81),(15.0,-2.0),(14.86,-2.27),(15.07,-2.45),(15.27,-2.36),(15.48,-2.36),(15.44,-2.63),(15.62,-2.72),(15.76,-1.81),(15.89,-2.0),(15.83,-2.36),(16.1,-1.81),(16.24,-2.0),(16.03,-2.27),(16.24,-2.45),(16.45,-2.18),(16.58,-1.81),(16.79,-1.81),(16.65,-2.18),(17.07,-2.23),(16.1,-2.72),(16.31,-2.91),(16.1,-3.09),(16.45,-3.09),(16.65,-2.91),(16.79,-2.63),(14.38,-2.81),(14.56,-3.27),(15,-3.54),(15.2,-3.36),(15.34,-3.73),(15.48,-3.36),(15.62,-3.82),(15.83,-3.45),(14.86,-4.0),(15.27,-4.27),(15.41,-4.64),(16.24,-3.54),(16.24,-4.18),(16.52,-4.0),(16.72,-3.36),(16.93,-3.45),(17.14,-3.36),(17.35,-3.36),(17.62,-3.45),(17.07,-3.91),(17.41,-3.82),(17,-4.37),(17.07,-4.64),(17.76,-4.09),(17.41,-4.91),(17.28,-5.1),(17.55,-5.0),(17.76,-4.73),(17.97,-4.55),(17.35,-5.37),(17.62,-5.55),(17.83,-5.1),(18.03,-4.91),(18.17,-4.55),(18.38,-4.82),(18.59,-4.91),(18.8,-4.46),(18.86,-4.82),(19.07,-4.73),(19.21,-5.0),(19.42,-5.28),(19.28,-4.64),(17.55,-5.92),(17.9,-5.92),(18.45,-6.1),(18.59,-6.37),(18.73,-6.65),(18.38,-6.65),(18.59,-6.92),(18.8,-7.1),(18.17,-6.28),(17.9,-6.65),(18.03,-7.2),(18.45,-7.2),(17.28,-7.2),(17.62,-7.3),(17.14,-6.46),(16.72,-5.83),(16.52,-5.0),(16.2,-5.28),(16.52,-5.92),(16.38,-6.19),(19.69,-5.1),(19.69,-5.73),(19.35,-6.46),(19.39,-6.92),(19.14,-6.1),(20.04,-5.55),(20.25,-5.46),(20.3,-5.46),(20.25,-5.92),(20.38,-6.19),(19.07,-5.28),(18.73,-5.37),(18.31,-5.28),(18.1,-5.55),(18.86,-5.73),(19.07,-5.73),(17.69,-4.37),(16.17,-2.18),(16.31,-2.72),(15.96,-2.63)],
}

# cluster number labels, centre of each
label_names = ['0', '1', '2', '3', '4', '5', '6', '7', '8', '9', '10', '11', '12', '13', '14', '15', '16', '17']
label_x = [2.32, -4.72, -6.24, -8.3, -2.74, -1.1, -5.8, 0.8, 3.1, 2.4, 5.36, 8.45, 9.1, 12.7, 13.25, 13.55, 15.2, 19.0]
label_y = [-1.05, -9.25, -1.63, 1.67, 3.27, 5.54, 9.65, 12.35, 14.2, 7.82, 5.09, 12.35, 6.55, 9.55, 2.8, -5.65, -8.55, -2.85]


def make_frame(pts, label):
    df = pd.DataFrame(pts, columns=['x', 'y'])
    df['label'] = label
    return df


def draw(df, ax, size):
    sns.scatterplot(data=df, x='x', y='y', hue='label', palette=cmap,
                    hue_norm=(-1, 17), s=size, linewidth=0, legend=False, ax=ax)


sns.set_style('ticks')
plt.rcParams['font.family'] = ['DejaVu Sans']
cmap = sns.color_palette('coolwarm', as_cmap=True)

fig = plt.figure(figsize=(24, 11.7), dpi=100)
ax = fig.add_axes([114 / 2400, 1 - 1114 / 1170, (2397 - 114) / 2400, (1114 - 2) / 1170])

noise = noise_left + noise_mid_left + noise_centre + noise_right + noise_low
draw(make_frame(noise, -1), ax, 75)
for k in core_pts:
    draw(make_frame(core_pts[k], k), ax, 1000)
for k in fill_pts:
    draw(make_frame(fill_pts[k], k), ax, 260)
for k in edge_pts:
    draw(make_frame(edge_pts[k], k), ax, 75)

for name, x, y in zip(label_names, label_x, label_y):
    ax.text(x, y, name, fontsize=105, ha='center', va='center', color='black')

ax.set_xlim(-18.97, 22.24)
ax.set_ylim(-24.6, 16.75)
ax.set_xticks([-15, -10, -5, 0, 5, 10, 15, 20])
ax.set_yticks([-20, -15, -10, -5, 0, 5, 10, 15])
ax.set(xlabel='', ylabel='')
ax.tick_params(labelsize=34, length=5, width=1, color='black', labelcolor='black')
for spine in ax.spines.values():
    spine.set_visible(True)
    spine.set_linewidth(1)
    spine.set_color('black')

fig.savefig('out.png', dpi=100)
